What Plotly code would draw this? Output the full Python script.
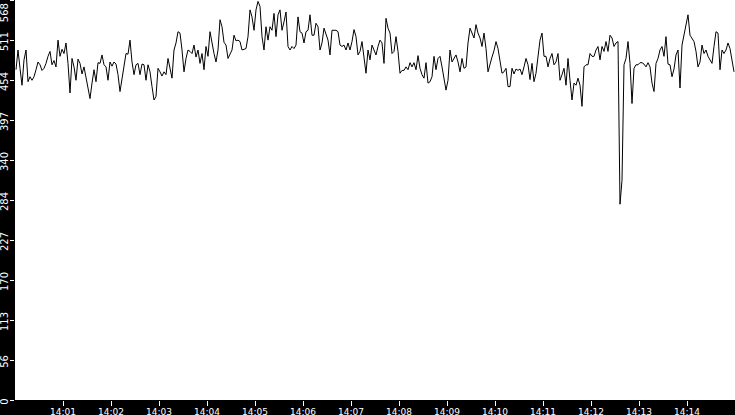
import datetime as dt
import plotly.graph_objects as go

# Readings, one every 2.5 s, from 14:00:01.25 onward (six blocks of 60)
seg1 = [469, 497, 471, 447, 483, 497, 452, 459, 454, 459, 469, 480, 476, 468, 471, 478, 488, 495, 476, 482,
        473, 511, 488, 498, 492, 507, 478, 436, 485, 473, 454, 484, 478, 463, 473, 459, 445, 428, 450, 469,
        452, 479, 478, 490, 476, 473, 454, 480, 474, 480, 477, 462, 438, 454, 471, 492, 491, 511, 480, 462]
seg2 = [476, 478, 462, 477, 476, 454, 476, 466, 445, 426, 431, 471, 466, 460, 466, 462, 485, 473, 457, 497,
        507, 523, 521, 497, 466, 485, 497, 495, 492, 504, 487, 497, 478, 492, 469, 502, 488, 523, 506, 492,
        480, 497, 540, 530, 508, 504, 485, 492, 497, 518, 510, 511, 509, 497, 498, 499, 516, 554, 544, 525]
seg3 = [554, 566, 559, 516, 497, 530, 511, 530, 525, 549, 516, 547, 554, 525, 537, 551, 502, 497, 502, 499,
        504, 544, 523, 521, 507, 523, 525, 547, 518, 518, 535, 530, 497, 507, 528, 518, 511, 490, 525, 525,
        525, 523, 504, 502, 504, 497, 507, 497, 509, 526, 516, 490, 495, 509, 483, 464, 497, 483, 504, 498]
seg4 = [490, 502, 511, 507, 478, 542, 528, 521, 492, 495, 516, 495, 464, 468, 468, 473, 469, 479, 473, 479,
        469, 489, 471, 462, 457, 479, 450, 452, 459, 488, 469, 485, 488, 473, 454, 440, 454, 497, 480, 485,
        490, 480, 466, 485, 471, 473, 507, 528, 521, 514, 533, 521, 514, 502, 521, 499, 466, 478, 487, 496]
seg5 = [509, 499, 483, 464, 466, 471, 445, 445, 471, 463, 470, 468, 470, 462, 473, 485, 476, 455, 478, 452,
        464, 490, 511, 521, 488, 488, 473, 485, 492, 476, 480, 492, 454, 462, 471, 447, 485, 454, 426, 450,
        447, 457, 447, 417, 473, 476, 476, 492, 488, 488, 497, 502, 483, 502, 495, 509, 495, 518, 514, 502]
seg6 = [507, 509, 278, 312, 476, 485, 509, 478, 421, 471, 476, 476, 479, 479, 477, 473, 479, 473, 450, 438,
        478, 485, 497, 502, 488, 516, 477, 476, 459, 470, 490, 497, 443, 504, 518, 528, 547, 518, 514, 509,
        495, 473, 480, 504, 492, 497, 488, 483, 478, 502, 523, 521, 469, 497, 492, 497, 507, 499, 480, 466]
values = seg1 + seg2 + seg3 + seg4 + seg5 + seg6

start = dt.datetime(2024, 1, 1, 14, 0, 0)
sample_step_s = 2.5
first_offset_s = 1.25
times = [start + dt.timedelta(seconds=first_offset_s + i * sample_step_s) for i in range(len(values))]

x_tick_labels = ["14:01", "14:02", "14:03", "14:04", "14:05", "14:06", "14:07",
                 "14:08", "14:09", "14:10", "14:11", "14:12", "14:13", "14:14"]
x_tick_vals = [start.replace(hour=int(s[:2]), minute=int(s[3:])) for s in x_tick_labels]

y_max = 568
y_tick_labels = ["0", "56", "113", "170", "227", "284", "340", "397", "454", "511", "568"]
y_tick_vals = [y_max * k / 10 for k in range(len(y_tick_labels))]
# the top label sits just below the page edge, as in the original
y_tick_text = y_tick_labels[:-1] + [y_tick_labels[-1] + "\u00a0" * 7]

fig = go.Figure(go.Scatter(x=times, y=values, mode="lines",
                           line=dict(color="black", width=1), hoverinfo="skip"))

fig.update_layout(
    width=735, height=415,
    margin=dict(l=15, r=0, t=0, b=15, autoexpand=False),
    paper_bgcolor="black", plot_bgcolor="white",
    showlegend=False,
    font=dict(family="DejaVu Sans", size=9, color="white"),
)
fig.update_xaxes(
    range=[start, start + dt.timedelta(minutes=15)],
    tickvals=x_tick_vals, ticktext=x_tick_labels,
    ticks="outside", ticklen=5, tickcolor="white", tickwidth=1,
    ticklabelstandoff=-2,
    showgrid=False, zeroline=False, showline=False, automargin=False,
    tickfont=dict(size=9, color="white"),
)
fig.update_yaxes(
    range=[0, y_max],
    tickvals=y_tick_vals, ticktext=y_tick_text,
    ticks="outside", ticklen=4, tickcolor="white", tickwidth=1,
    tickangle=-90, ticklabeloverflow="allow",
    ticklabelstandoff=-2, ticklabelshift=3,
    showgrid=False, zeroline=False, showline=False, automargin=False,
    tickfont=dict(size=10, color="white"),
)

fig.write_html("out.html", config={"displayModeBar": False},
               post_script="document.body.style.margin='0px';document.body.style.background='black';")
